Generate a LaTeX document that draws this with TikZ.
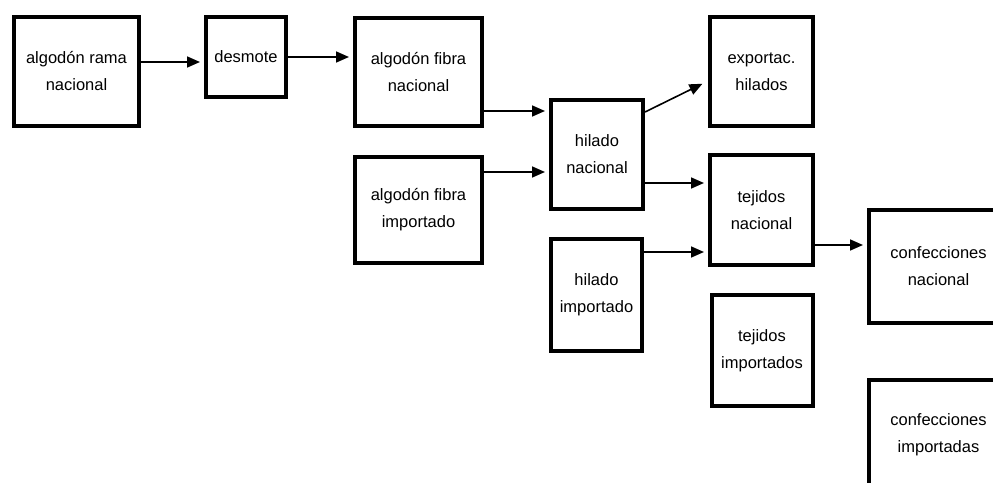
\documentclass[tikz,border=0pt]{standalone}
\usepackage{fontspec}
\setmainfont{Liberation Sans}
\usepackage{tikz}
\usetikzlibrary{arrows.meta,calc}
\tikzset{
	box/.style 2 args={draw,line width=4pt,minimum width=#1,minimum height=#2,
		inner sep=0pt,align=center,font=\fontsize{16.5}{27}\selectfont},
	ar/.style={line width=1.6pt,-{Triangle[length=13pt,width=11pt]},shorten >=4pt}
}

\begin{document}
\begin{tikzpicture}[x=1pt,y=-1pt]
  \useasboundingbox (0,0) rectangle (993,482);
  \node [box={125pt}{109pt}] (Ran) at (76.5,71.5) {algodón rama\\nacional};
  \node [box={80pt}{80pt}] (Des) at (246,57) {desmote};
  \node [box={127pt}{108pt}] (Fn) at (418.5,72) {algodón fibra\\nacional};
  \node [box={127pt}{106pt}] (Fi) at (418.5,210) {algodón fibra\\importado};
  \node [box={92pt}{109pt}] (Hn) at (597,154.5) {hilado\\nacional};
  \node [box={91pt}{112pt}] (Hi) at (596.5,295) {hilado\\importado};
  \node [box={103pt}{109pt}] (Ex) at (761.5,71.5) {exportac.\\hilados};
  \node [box={103pt}{110pt}] (Tn) at (761.5,210) {tejidos\\nacional};
  \node [box={101pt}{111pt}] (Ti) at (762,350.5) {tejidos\\importados};
  \node [box={139pt}{113pt}] (Cn) at (938.5,266.5) {confecciones\\nacional};
  \node [box={139pt}{109pt}] (Ci) at (938.5,434.5) {confecciones\\importadas};
  % flows
  \draw [ar] ($(Ran.east)+(0,-9.5)$) -- ($(Des.west)+(0,5)$);
  \draw [ar] (Des.east) -- (Des.east -| Fn.west);
  \draw [ar] ($(Fn.east)+(0,39)$) -- ($(Hn.west)+(0,-43.5)$);
  \draw [ar] ($(Fi.east)+(0,-38)$) -- ($(Hn.west)+(0,17.5)$);
  \draw [ar] ($(Hn.east)+(0,-42.5)$) -- ($(Ex.west)+(-2,10.5)$);
  \draw [ar] ($(Hn.east)+(0,28.5)$) -- ($(Tn.west)+(0,-27)$);
  \draw [ar] ($(Hi.east)+(0,-43)$) -- ($(Tn.west)+(0,42)$);
  \draw [ar] ($(Tn.east)+(0,35)$) -- ($(Cn.west)+(0,-21.5)$);
\end{tikzpicture}
\end{document}
